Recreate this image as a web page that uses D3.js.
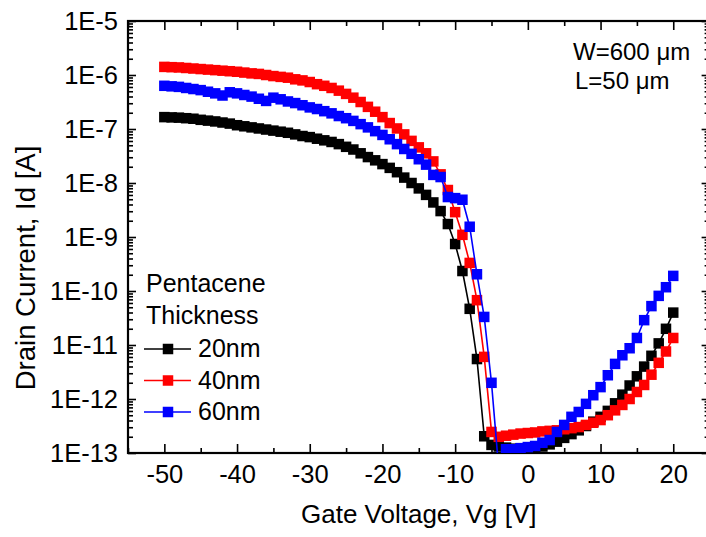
<!DOCTYPE html>
<html>
<head>
<meta charset="utf-8">
<script src="https://cdn.jsdelivr.net/npm/d3@7"></script>
<style>
  body { margin: 0; background: #fff; }
  text { font-family: "Liberation Sans", Arial, sans-serif; fill: #000; }
</style>
</head>
<body>
<svg id="chart" width="706" height="537"></svg>
<script>
/** Gate voltage sweep, -50 V to 20 V in 1 V steps */
var gateVoltage = d3.range(-50, 21, 1);

/** log10 of drain current [A], one per gate voltage */
var logId20nm = [
  -6.78, -6.785, -6.79, -6.80, -6.81, -6.83, -6.845, -6.86, -6.88, -6.90,
  -6.93, -6.95, -6.97, -6.99, -7.01, -7.03, -7.05, -7.07, -7.10, -7.13,
  -7.15, -7.18, -7.21, -7.24, -7.28, -7.33, -7.38, -7.45, -7.52, -7.58,
  -7.65, -7.72, -7.80, -7.90, -8.00, -8.10, -8.22, -8.36, -8.52, -8.76,
  -9.13, -9.63, -10.33, -11.26, -12.69, -12.85, -12.88, -12.90, -12.92, -12.92,
  -12.92, -12.90, -12.88, -12.84, -12.79, -12.72, -12.65, -12.58, -12.50, -12.42,
  -12.33, -12.22, -12.08, -11.92, -11.75, -11.58, -11.40, -11.20, -10.97, -10.70,
  -10.40
];
var logId40nm = [
  -5.85, -5.855, -5.86, -5.87, -5.88, -5.89, -5.90, -5.91, -5.92, -5.93,
  -5.94, -5.955, -5.97, -5.98, -6.00, -6.02, -6.035, -6.05, -6.08, -6.10,
  -6.13, -6.17, -6.20, -6.24, -6.29, -6.35, -6.42, -6.50, -6.59, -6.68,
  -6.78, -6.89, -6.99, -7.10, -7.22, -7.34, -7.45, -7.60, -7.84, -8.13,
  -8.54, -8.96, -9.48, -10.17, -11.22, -12.61, -12.70, -12.68, -12.66, -12.64,
  -12.63, -12.62, -12.60, -12.59, -12.58, -12.56, -12.54, -12.52, -12.48, -12.44,
  -12.39, -12.30, -12.21, -12.11, -12.00, -11.87, -11.74, -11.55, -11.33, -11.12,
  -10.87
];
var logId60nm = [
  -6.20, -6.21, -6.22, -6.24, -6.26, -6.28, -6.31, -6.34, -6.38, -6.32,
  -6.34, -6.37, -6.40, -6.44, -6.48, -6.42, -6.45, -6.49, -6.52, -6.56,
  -6.60, -6.63, -6.67, -6.71, -6.76, -6.80, -6.85, -6.91, -6.97, -7.04,
  -7.11, -7.19, -7.28, -7.37, -7.46, -7.56, -7.66, -7.85, -7.89, -8.26,
  -8.28, -8.31, -8.81, -9.69, -10.48, -11.70, -13.30, -12.93, -12.93, -12.91,
  -12.89, -12.87, -12.81, -12.76, -12.61, -12.48, -12.33, -12.24, -12.09, -11.93,
  -11.78, -11.56, -11.35, -11.19, -11.06, -10.87, -10.54, -10.28, -10.09, -9.93,
  -9.72
];

var seriesNames = ['20nm', '40nm', '60nm'];
var seriesColors = ['#000000', '#ff0000', '#0000ff'];
var seriesLogs = [logId20nm, logId40nm, logId60nm];

/** Axis ticks */
var xMajorTicks = [-50, -40, -30, -20, -10, 0, 10, 20];
var xMinorTicks = [-55, -45, -35, -25, -15, -5, 5, 15, 25];
var yDecades = [-13, -12, -11, -10, -9, -8, -7, -6, -5];

var legendTitle = ['Pentacene', 'Thickness'];
var notes = ['W=600 \u03bcm', 'L=50 \u03bcm'];

/** Plot frame (don't call it "top", window.top is read-only) */
var plotLeft = 128, plotRight = 709.6, plotTop = 21, plotBottom = 453;
var markerSize = 10.5;

var x = d3.scaleLinear().domain([-55, 25]).range([plotLeft, plotRight]);
var y = d3.scaleLog().domain([1e-13, 1e-5]).range([plotBottom, plotTop]);

var svg = d3.select('#chart');

svg.append('defs').append('clipPath').attr('id', 'plotClip')
  .append('rect')
  .attr('x', plotLeft).attr('y', plotTop)
  .attr('width', plotRight - plotLeft).attr('height', plotBottom - plotTop);

var yMajor = yDecades.map(function(k) { return Math.pow(10, k); });
var yMinor = [];
yDecades.slice(0, -1).forEach(function(k) {
  for (var m = 2; m <= 9; m++) yMinor.push(m * Math.pow(10, k));
});

var fmtY = function(d) { return '1E' + Math.round(Math.log10(d)); };
var fmtX = function(d) { return String(d); }; // plain hyphen, not unicode minus

// left axis with labels, ticks pointing inward
svg.append('g').attr('class', 'axis')
  .attr('transform', 'translate(' + plotLeft + ',0)')
  .call(d3.axisLeft(y).tickValues(yMajor).tickSize(-8).tickPadding(10).tickFormat(fmtY));
svg.append('g').attr('class', 'axis')
  .attr('transform', 'translate(' + plotLeft + ',0)')
  .call(d3.axisLeft(y).tickValues(yMinor).tickSize(-5).tickFormat(''));
// right mirror
svg.append('g').attr('class', 'axis')
  .attr('transform', 'translate(' + plotRight + ',0)')
  .call(d3.axisRight(y).tickValues(yMajor).tickSize(-8).tickFormat(''));
svg.append('g').attr('class', 'axis')
  .attr('transform', 'translate(' + plotRight + ',0)')
  .call(d3.axisRight(y).tickValues(yMinor).tickSize(-5).tickFormat(''));

// bottom axis with labels
svg.append('g').attr('class', 'axis')
  .attr('transform', 'translate(0,' + plotBottom + ')')
  .call(d3.axisBottom(x).tickValues(xMajorTicks).tickSize(-9).tickPadding(12).tickFormat(fmtX));
svg.append('g').attr('class', 'axis')
  .attr('transform', 'translate(0,' + plotBottom + ')')
  .call(d3.axisBottom(x).tickValues(xMinorTicks).tickSize(-5).tickFormat(''));
// top mirror
svg.append('g').attr('class', 'axis')
  .attr('transform', 'translate(0,' + plotTop + ')')
  .call(d3.axisTop(x).tickValues(xMajorTicks).tickSize(-9).tickFormat(''));
svg.append('g').attr('class', 'axis')
  .attr('transform', 'translate(0,' + plotTop + ')')
  .call(d3.axisTop(x).tickValues(xMinorTicks).tickSize(-5).tickFormat(''));

svg.selectAll('.axis .domain').remove();
svg.selectAll('.axis line').attr('stroke', '#000').attr('stroke-width', 1.6);
svg.selectAll('.axis text')
  .style('font-size', '25.5px')
  .style('font-family', '"Liberation Sans", Arial, sans-serif')
  .attr('fill', '#000');

// frame
svg.append('rect')
  .attr('x', plotLeft).attr('y', plotTop)
  .attr('width', plotRight - plotLeft).attr('height', plotBottom - plotTop)
  .attr('fill', 'none').attr('stroke', '#000').attr('stroke-width', 2.2);

// curves
var line = d3.line()
  .x(function(d) { return x(d.v); })
  .y(function(d) { return y(d.i); });

var plot = svg.append('g').attr('clip-path', 'url(#plotClip)');

seriesLogs.forEach(function(logs, s) {
  var pts = gateVoltage.map(function(v, i) { return { v: v, i: Math.pow(10, logs[i]) }; });
  var g = plot.append('g');
  g.append('path').datum(pts)
    .attr('d', line)
    .attr('fill', 'none')
    .attr('stroke', seriesColors[s])
    .attr('stroke-width', 1.6);
  g.selectAll('rect').data(pts).enter().append('rect')
    .attr('x', function(d) { return x(d.v) - markerSize / 2; })
    .attr('y', function(d) { return y(d.i) - markerSize / 2; })
    .attr('width', markerSize).attr('height', markerSize)
    .attr('fill', seriesColors[s]);
});

// axis titles
svg.append('text')
  .attr('x', (plotLeft + plotRight) / 2).attr('y', 523)
  .attr('text-anchor', 'middle')
  .style('font-size', '26px')
  .text('Gate Voltage, Vg [V]');

svg.append('text')
  .attr('transform', 'translate(35,268) rotate(-90)')
  .attr('text-anchor', 'middle')
  .style('font-size', '27.5px')
  .text('Drain Current, Id [A]');

// legend
var legend = svg.append('g');
legend.selectAll('text.title').data(legendTitle).enter().append('text')
  .attr('class', 'title')
  .attr('x', 146)
  .attr('y', function(d, i) { return 292 + i * 32; })
  .style('font-size', '25px')
  .text(function(d) { return d; });

var items = legend.selectAll('g.item').data(seriesNames).enter().append('g')
  .attr('class', 'item')
  .attr('transform', function(d, i) { return 'translate(0,' + (357 + i * 31.5) + ')'; });
items.append('line')
  .attr('x1', 144).attr('x2', 191).attr('y1', -8).attr('y2', -8)
  .attr('stroke', function(d, i) { return seriesColors[i]; })
  .attr('stroke-width', 1.6);
items.append('rect')
  .attr('x', 168 - markerSize / 2).attr('y', -8 - markerSize / 2)
  .attr('width', markerSize).attr('height', markerSize)
  .attr('fill', function(d, i) { return seriesColors[i]; });
items.append('text')
  .attr('x', 198).attr('y', 0)
  .style('font-size', '25px')
  .text(function(d) { return d; });

// device dimensions
svg.selectAll('text.note').data(notes).enter().append('text')
  .attr('class', 'note')
  .attr('x', function(d, i) { return i === 0 ? 573 : 575; })
  .attr('y', function(d, i) { return 60 + i * 29; })
  .style('font-size', '24px')
  .text(function(d) { return d; });
</script>
</body>
</html>
